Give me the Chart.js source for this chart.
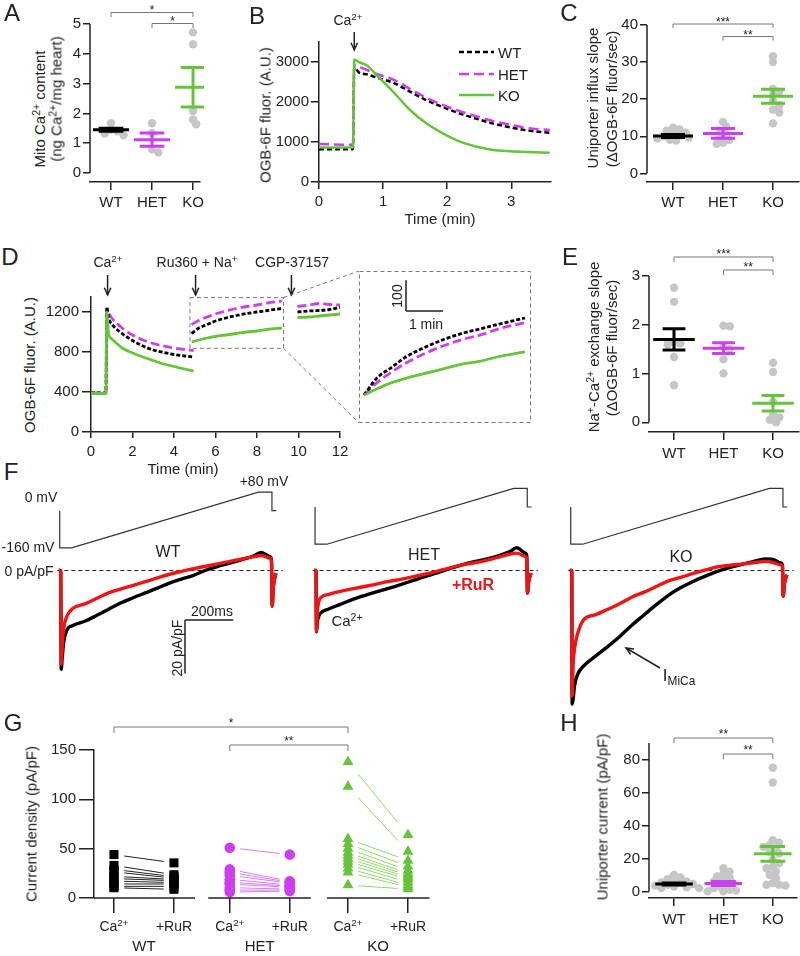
<!DOCTYPE html>
<html>
<head>
<meta charset="utf-8">
<title>MCU figure</title>
<script src="https://cdn.jsdelivr.net/npm/chart.js@4.4.1/dist/chart.umd.min.js"></script>
<style>
  html, body { margin: 0; padding: 0; background: #fff; }
  #fig { position: relative; width: 800px; height: 956px; overflow: hidden;
         font-family: "Liberation Sans", Arial, Helvetica, sans-serif; color: #222; }
  #fig canvas { position: absolute; }
  .t { position: absolute; white-space: nowrap; line-height: 1; font-size: 15px;
       transform: translate(-50%, -50%); }
  .t sup, .t sub { font-size: 70%; line-height: 0; position: relative; vertical-align: baseline; }
  .t sup { top: -0.5em; }
  .t sub { top: 0.3em; }
</style>
</head>
<body>
<div id="fig"></div>
<script>
// ---------- values ----------
const genotypes = ['WT', 'HET', 'KO'];

// A: mito Ca2+ content
const aWT = [1.67, 1.45, 1.40, 1.33, 1.27];
const aHET = [1.67, 1.34, 0.80, 0.69];
const aKO = [4.72, 4.32, 2.08, 1.80, 1.64];
const aMean = [1.45, 1.12, 2.88];
const aSem = [0.05, 0.22, 0.66];

// B: OGB-6F traces (time in min)
const bTime = [0, 0.53, 0.55, 0.62, 0.75, 0.9, 1.16, 1.42, 1.68, 1.94, 2.2, 2.46, 2.72, 2.98, 3.25, 3.6];
const bWT = [820, 820, 2880, 2740, 2690, 2610, 2480, 2260, 2040, 1870, 1710, 1580, 1460, 1370, 1290, 1230];
const bHET = [950, 930, 2920, 2880, 2800, 2700, 2560, 2330, 2100, 1920, 1770, 1640, 1520, 1430, 1350, 1300];
const bKO = [860, 860, 3060, 3000, 2910, 2670, 2250, 1800, 1460, 1210, 1010, 880, 800, 770, 750, 730];

// C: uniporter influx slope
const cWT = [12.3, 11.9, 11.5, 11.0, 10.6, 10.3, 10.0, 9.7, 9.4, 9.1, 8.9];
const cHET = [13.9, 12.6, 11.5, 10.4, 9.6, 9.0, 8.3, 8.0];
const cKO = [31.6, 30.0, 22.8, 22.0, 21.2, 19.5, 18.4, 17.2, 16.4, 13.5];
const cMean = [10.1, 10.8, 20.8];
const cSem = [0.4, 1.3, 1.9];

// D: OGB-6F traces, three recording segments (null = gap)
const dT = [0, 0.72, 0.76, 0.85, 1.0, 1.5, 2.0, 2.5, 3.0, 3.5, 4.0, 4.5, 4.95, null,
            4.85, 5.2, 5.6, 6.0, 6.5, 7.0, 7.5, 8.0, 8.5, 9.2, null,
            9.95, 10.5, 11.0, 11.5, 12.0];
const dWT = [390, 390, 1250, 1140, 1080, 985, 915, 860, 820, 795, 775, 760, 750, null,
             985, 1040, 1075, 1110, 1140, 1165, 1185, 1200, 1215, 1235, null,
             1200, 1210, 1215, 1225, 1245];
const dHET = [390, 390, 1230, 1190, 1140, 1040, 970, 920, 885, 860, 840, 825, 815, null,
              1075, 1115, 1150, 1180, 1210, 1235, 1255, 1270, 1290, 1310, null,
              1255, 1270, 1285, 1275, 1270];
const dKO = [385, 385, 1200, 980, 930, 840, 790, 750, 715, 680, 655, 630, 610, null,
             900, 920, 940, 955, 970, 985, 1000, 1010, 1025, 1040, null,
             1145, 1150, 1160, 1170, 1180];

// E: Na+-Ca2+ exchange slope
const eWT = [2.76, 2.47, 1.64, 1.62, 1.60, 1.34, 0.76];
const eHET = [1.98, 1.97, 1.55, 1.50, 1.29, 1.00];
const eKO = [1.22, 1.03, 0.42, 0.15, 0.10, 0.05, 0.0];
const eMean = [1.70, 1.52, 0.39];
const eSem = [0.22, 0.11, 0.16];

// F: ramp protocol and currents (ms, mV, pA/pF)
const fProtoT = [-4, -4, 45, 818, 874, 874, 892];
const fProtoV = [0, -160, -160, 80, 80, 0, 0];
const fZeroSpan = [-14, 918];
const fTime = [-8, 0, 2, 6, 12, 25, 50, 100, 150, 200, 250, 300, 350, 400, 450, 500, 550,
               600, 650, 700, 750, 800, 830, 866, 872, 875, 880, 890];
const fWtCa = [0, 0, -37, -33, -27, -22.4, -20.6, -19, -16.8, -14.4, -12.1, -10.2, -8.4, -6.6, -4.7, -3.2, -1.8,
               0.1, 1.5, 2.8, 4.1, 5.5, 6.8, 5.2, 4, -13, -6, -1];
const fWtRuR = [0, 0, -35, -29, -22, -17.3, -14.2, -12.5, -10.4, -8.3, -6.9, -5.6, -4.2, -2.8, -1.4, -0.3, 0.7,
                1.6, 2.5, 3.4, 4.3, 5.2, 5.6, 4.6, 3.6, -13.5, -6, -1];
const fHetCa = [0, 0, -23, -19, -17, -15.5, -14.5, -12.7, -10.9, -9.4, -8.0, -6.7, -5.3, -3.8, -2.3, -0.9, 0.6,
                2.0, 3.2, 4.2, 5.4, 7.0, 8.5, 6.5, 5.5, -8.4, -4, -1];
const fHetRuR = [0, 0, -22.7, -15, -11.5, -9.8, -9, -7.8, -6.9, -6.0, -5.1, -4.1, -3.3, -2.4, -1.4, -0.3, 0.9,
                 2.0, 2.8, 3.7, 4.9, 6.1, 6.5, 5.3, 4.5, -8.4, -4, -1];
const fKoCa = [0, 0, -50, -48, -43, -38.8, -35.7, -32, -28.4, -24.6, -20.4, -16.6, -12.8, -9.3, -6.5, -4.2, -2.2,
               -0.4, 1.0, 2.2, 3.3, 4.3, 4.2, 2.8, 2.0, -9.6, -5, -1.6];
const fKoRuR = [0, 0, -47, -35, -29, -23.5, -18.4, -16.5, -14.5, -12.4, -9.9, -8.1, -6.0, -3.9, -2.6, -1.2, 0.1,
                1.3, 1.9, 2.4, 2.9, 3.4, 3.1, 2.1, 1.5, -9.6, -5, -1.6];

// G: paired current densities, Ca2+ then +RuR
const gWtCa = [44, 33, 29, 26.5, 22, 19.7, 17.2, 14.2, 11.8, 10.4];
const gWtRuR = [35.6, 23.6, 21.6, 20.1, 18.7, 17.5, 15.6, 14.2, 11.8, 8.8];
const gHetCa = [51, 29, 26, 23, 19, 16, 14, 10.5, 8, 6];
const gHetRuR = [44, 17, 16, 15, 13, 12, 11, 9, 8, 7];
const gKoCa = [138, 113, 60, 55, 50, 46, 43, 40, 37, 34, 30, 26, 13];
const gKoRuR = [64, 47, 38, 32, 28, 25, 23, 21, 19, 16, 13, 11, 9];
const gTickLabels = ['Ca<sup>2+</sup>', '+RuR'];

// H: uniporter current
const hWT = [10, 8.5, 7.5, 6.5, 6, 5.5, 5, 4.5, 4, 3.5, 3, 2.5, 2, 2];
const hHET = [14, 12, 10.5, 9, 8, 7, 6, 5, 4, 3, 2, 1, 0.5, 0, 0];
const hKO = [75, 66, 31, 29.5, 28, 27, 26, 24, 23, 19, 17, 15, 14, 12, 10, 8, 5, 4, 4, 3.5];
const hMean = [4.5, 4.8, 22.8];
const hSem = [0.6, 1.2, 4.5];

// ---------- setup ----------
const fig = document.getElementById('fig');
const FONT = '"Liberation Sans", Arial, Helvetica, sans-serif';
const AX = '#222';
const COL = ['#000000', '#cc3ff0', '#66c43a'];
const PT = '#c6c6c6';
const RED = '#f01414';

Chart.defaults.font.family = FONT;
Chart.defaults.font.size = 15;
Chart.defaults.color = AX;

function canvasAt(left, top, w, h) {
  const c = document.createElement('canvas');
  c.width = w; c.height = h;
  Object.assign(c.style, {left: left + 'px', top: top + 'px', width: w + 'px', height: h + 'px'});
  fig.appendChild(c);
  return c;
}

function txt(html, x, y, o = {}) {
  const d = document.createElement('div');
  d.className = 't';
  d.innerHTML = html;
  d.style.left = x + 'px';
  d.style.top = y + 'px';
  if (o.size) d.style.fontSize = o.size + 'px';
  if (o.color) d.style.color = o.color;
  if (o.bold) d.style.fontWeight = 'bold';
  if (o.rot) d.style.transform = 'translate(-50%,-50%) rotate(-90deg)';
  if (o.left) d.style.transform = 'translate(0,-50%)';
  fig.appendChild(d);
}

function seg(ctx, x1, y1, x2, y2) {
  ctx.beginPath(); ctx.moveTo(x1, y1); ctx.lineTo(x2, y2); ctx.stroke();
}

function arrow(ctx, x1, y1, x2, y2) {
  seg(ctx, x1, y1, x2, y2);
  const a = Math.atan2(y2 - y1, x2 - x1), len = 8;
  ctx.beginPath();
  ctx.moveTo(x2 - len * Math.cos(a - 0.42), y2 - len * Math.sin(a - 0.42));
  ctx.lineTo(x2, y2);
  ctx.lineTo(x2 - len * Math.cos(a + 0.42), y2 - len * Math.sin(a + 0.42));
  ctx.stroke();
}

// extra drawing: offset axis lines, brackets, arrows, boxes, scale bars, legend
const decor = {
  id: 'decor',
  afterDatasetsDraw(chart, args, o) {
    const ctx = chart.ctx, ca = chart.chartArea;
    const sx = chart.scales.x, sy = chart.scales.y;
    const ox = o.ox, oy = o.oy;
    ctx.save();
    ctx.strokeStyle = AX;
    ctx.lineWidth = 1.5;
    if (o.yLine) seg(ctx, ca.left, sy.getPixelForValue(o.yLine[0]), ca.left, sy.getPixelForValue(o.yLine[1]));
    if (o.xSegs) o.xSegs.forEach(s => seg(ctx, sx.getPixelForValue(s[0]), ca.bottom, sx.getPixelForValue(s[1]), ca.bottom));
    if (o.arrows) o.arrows.forEach(a => {
      const x = sx.getPixelForValue(a.x);
      arrow(ctx, x, a.y1 - oy, x, a.y2 - oy);
    });
    if (o.arrowsPx) o.arrowsPx.forEach(a => arrow(ctx, a.x1 - ox, a.y1 - oy, a.x2 - ox, a.y2 - oy));
    if (o.scaleBar) {
      const b = o.scaleBar, x = b.x - ox, y = b.y - oy;
      const hx = sx.getPixelForValue(sx.min + b.dx) - sx.getPixelForValue(sx.min);
      const vy = sy.getPixelForValue(sy.min) - sy.getPixelForValue(sy.min + Math.abs(b.dy));
      seg(ctx, x, y, x + hx, y);
      seg(ctx, x, y, x, b.dy > 0 ? y - vy : y + vy);
    }
    if (o.legend) o.legend.forEach(e => {
      const ds = chart.data.datasets[e.ds];
      ctx.save();
      ctx.strokeStyle = ds.borderColor; ctx.lineWidth = ds.borderWidth;
      ctx.setLineDash(ds.borderDash || []);
      seg(ctx, e.x1 - ox, e.y - oy, e.x2 - ox, e.y - oy);
      ctx.restore();
    });
    ctx.lineWidth = 1;
    ctx.strokeStyle = '#777';
    if (o.brackets) o.brackets.forEach(b => {
      const xa = sx.getPixelForValue(b.a), xb = sx.getPixelForValue(b.b), y = b.y - oy;
      ctx.beginPath(); ctx.moveTo(xa, y + b.drop); ctx.lineTo(xa, y); ctx.lineTo(xb, y); ctx.lineTo(xb, y + b.drop); ctx.stroke();
    });
    ctx.setLineDash([4, 3]);
    if (o.frame) ctx.strokeRect(ca.left + 0.5, ca.top + 0.5, ca.right - ca.left - 1, ca.bottom - ca.top - 1);
    if (o.box) {
      const b = o.box;
      const x0 = sx.getPixelForValue(b.x0), x1 = sx.getPixelForValue(b.x1);
      const y0 = sy.getPixelForValue(b.y0), y1 = sy.getPixelForValue(b.y1);
      ctx.strokeRect(x0, y1, x1 - x0, y0 - y1);
      seg(ctx, x1, y1, b.to[0][0] - ox, b.to[0][1] - oy);
      seg(ctx, x1, y0, b.to[1][0] - ox, b.to[1][1] - oy);
    }
    ctx.restore();
  }
};

function xAxis(min, max, ticks, o) {
  return {
    type: 'linear', min, max, position: 'bottom',
    afterBuildTicks: s => { s.ticks = ticks.map(v => ({value: v})); },
    afterFit: s => { s.height = o.h; s.paddingLeft = 0; s.paddingRight = 0; },
    grid: {drawOnChartArea: false, tickLength: o.tick || 8, color: AX, lineWidth: 1.5},
    border: {display: o.border !== false, color: AX, width: 1.5},
    ticks: {display: !o.noLabels, padding: o.pad ?? 4, maxRotation: 0, autoSkip: false,
            callback: o.labels ? (v, i) => o.labels[i] : (v => v)}
  };
}

function yAxis(min, max, ticks, o) {
  return {
    type: 'linear', min, max, position: 'left',
    afterBuildTicks: s => { s.ticks = ticks.map(v => ({value: v})); },
    afterFit: s => { s.width = o.w; s.paddingTop = 0; s.paddingBottom = 0; },
    grid: {drawOnChartArea: false, tickLength: o.tick || 7, color: AX, lineWidth: 1.5},
    border: {display: !!o.border, color: AX, width: 1.5},
    ticks: {padding: o.pad ?? 2, autoSkip: false, callback: v => v}
  };
}

function baseOptions(top, right, decorOpts, scales) {
  return {
    responsive: false, animation: false, events: [],
    layout: {padding: {left: 0, top, right, bottom: 0}, autoPadding: false},
    plugins: {legend: {display: false}, tooltip: {enabled: false}, decor: decorOpts},
    scales
  };
}

// simple deterministic beeswarm: spread points that would overlap too much
function swarm(vals, pxY, r) {
  const placed = [], offs = vals.map(() => 0);
  const idx = vals.map((v, i) => i).sort((a, b) => vals[b] - vals[a]);
  idx.forEach(i => {
    const y = vals[i] * pxY;
    for (let k = 0; k < 60; k++) {
      const dx = k === 0 ? 0 : (k % 2 ? 1 : -1) * Math.ceil(k / 2) * r * 0.75;
      if (placed.every(p => Math.hypot(p.x - dx, p.y - y) >= r * 1.35)) {
        offs[i] = dx; placed.push({x: dx, y}); break;
      }
    }
  });
  return offs;
}

function dotPanel(p) {
  const left = p.L - p.yW, top = p.T - p.top;
  const cv = canvasAt(left, top, p.R + p.right - left, p.B + p.xH - top);
  const pxX = (p.R - p.L) / (p.xMax - p.xMin), pxY = (p.B - p.T) / (p.yMax - p.yMin);
  const pts = [];
  p.groups.forEach((vals, g) => {
    const offs = swarm(vals, pxY, p.r);
    vals.forEach((v, k) => pts.push({x: g + offs[k] / pxX, y: v}));
  });
  const datasets = [{data: pts, backgroundColor: PT, borderWidth: 0, pointRadius: p.r, order: 5, clip: false}];
  p.mean.forEach((m, g) => {
    const s = p.sem[g], gap = {x: g, y: null};
    datasets.push({
      data: [{x: g - p.mw, y: m}, {x: g + p.mw, y: m}, gap,
             {x: g, y: m - s}, {x: g, y: m + s}, gap,
             {x: g - p.cw, y: m + s}, {x: g + p.cw, y: m + s}, gap,
             {x: g - p.cw, y: m - s}, {x: g + p.cw, y: m - s}],
      showLine: true, spanGaps: false, borderColor: COL[g], borderWidth: 3, pointRadius: 0, order: 1, clip: false
    });
  });
  const chart = new Chart(cv, {
    type: 'scatter',
    data: {datasets},
    options: baseOptions(p.top, p.right, {ox: left, oy: top, yLine: [p.yTop, 0], brackets: p.brackets}, {
      x: xAxis(p.xMin, p.xMax, [0, 1, 2], {h: p.xH, labels: genotypes, tick: 8, pad: p.xPad ?? 4}),
      y: yAxis(p.yMin, p.yMax, p.yTicks, {w: p.yW})
    }),
    plugins: [decor]
  });
  p.brackets.forEach(b => txt(b.text, left + chart.scales.x.getPixelForValue((b.a + b.b) / 2), b.ty, {size: 12}));
  return chart;
}

// ---------- A ----------
dotPanel({L: 90, T: 24, R: 200, B: 182, xMin: -0.512, xMax: 2.17, yMin: -0.3, yMax: 5,
  yTicks: [0, 1, 2, 3, 4, 5], yTop: 5, groups: [aWT, aHET, aKO], mean: aMean, sem: aSem,
  r: 4.2, mw: 0.44, cw: 0.3, yW: 40, xH: 36, top: 24, right: 4,
  brackets: [{a: 0, b: 2, y: 12.5, drop: 4.5, text: '*', ty: 9.5}, {a: 1, b: 2, y: 23.5, drop: 4.5, text: '*', ty: 21}]});

// ---------- B ----------
(function () {
  const L = 319, T = 42, R = 551, B = 182, yW = 50, xH = 36, top = 42, right = 4;
  const left = L - yW, ctop = T - top;
  const cv = canvasAt(left, ctop, R + right - left, B + xH - ctop);
  const line = (ys, col, dash, order) => ({
    data: bTime.map((t, i) => ({x: t, y: ys[i]})), showLine: true, borderColor: col, borderDash: dash,
    borderWidth: 2.5, pointRadius: 0, cubicInterpolationMode: 'monotone', order
  });
  new Chart(cv, {
    type: 'scatter',
    data: {datasets: [line(bWT, COL[0], [5, 3], 2), line(bHET, COL[1], [10, 5], 1), line(bKO, COL[2], [], 0)]},
    options: baseOptions(top, right, {
      ox: left, oy: ctop, arrows: [{x: 0.55, y1: 32, y2: 50}],
      legend: [{ds: 0, x1: 459, x2: 494, y: 52}, {ds: 1, x1: 459, x2: 494, y: 74}, {ds: 2, x1: 459, x2: 494, y: 95}]
    }, {
      x: xAxis(0, 3.62, [0, 1, 2, 3], {h: xH, tick: 7, pad: 4}),
      y: yAxis(0, 3500, [0, 1000, 2000, 3000], {w: yW, border: true, tick: 8})
    }),
    plugins: [decor]
  });
})();

// ---------- C ----------
dotPanel({L: 647, T: 25, R: 799, B: 182, xMin: -0.52, xMax: 2.52, yMin: -2.3, yMax: 40,
  yTicks: [0, 10, 20, 30, 40], yTop: 40, groups: [cWT, cHET, cKO], mean: cMean, sem: cSem,
  r: 4.2, mw: 0.4, cw: 0.24, yW: 45, xH: 36, top: 25, right: 1,
  brackets: [{a: 0, b: 2, y: 24, drop: 4, text: '***', ty: 21.5}, {a: 1, b: 2, y: 36.5, drop: 4, text: '**', ty: 34.5}]});

// ---------- D ----------
const dSeries = [dWT, dHET, dKO];
const dStyles = [{dash: [4, 2], order: 1}, {dash: [9, 4], order: 2}, {dash: [], order: 0}];
function dPoints(ys) {
  return dT.map((t, i) => ({x: t === null ? dT[i - 1] : t, y: t === null ? null : ys[i]}));
}
(function () {
  const L = 91, T = 297, R = 340, B = 432, yW = 50, xH = 36, top = 52, right = 22;
  const left = L - yW, ctop = T - top;
  const cv = canvasAt(left, ctop, R + right - left, B + xH - ctop);
  const datasets = dSeries.map((ys, g) => ({
    data: dPoints(ys), showLine: true, spanGaps: false, borderColor: COL[g], borderDash: dStyles[g].dash,
    borderWidth: 2.8, pointRadius: 0, cubicInterpolationMode: 'monotone', order: dStyles[g].order
  }));
  new Chart(cv, {
    type: 'scatter',
    data: {datasets},
    options: baseOptions(top, right, {
      ox: left, oy: ctop,
      arrows: [{x: 0.8, y1: 275, y2: 295}, {x: 5.04, y1: 275, y2: 295}, {x: 9.66, y1: 275, y2: 295}],
      box: {x0: 4.77, x1: 9.28, y0: 837, y1: 1344, to: [[359, 271], [359, 423]]}
    }, {
      x: xAxis(0, 12, [0, 2, 4, 6, 8, 10, 12], {h: xH, tick: 6, pad: 5}),
      y: yAxis(0, 1350, [0, 400, 800, 1200], {w: yW, border: true, tick: 9, pad: 3})
    }),
    plugins: [decor]
  });
})();

// D inset: middle segment, baseline subtracted
(function () {
  const left = 359, top = 271, w = 172, h = 152;
  const cv = canvasAt(left, top, w, h);
  const pxMin = 37, pxUnit = 0.308, zeroY = 395 - top;
  const xMin = 4.85 - 5 / pxMin, xMax = xMin + w / pxMin;
  const yMin = -(h - zeroY) / pxUnit, yMax = zeroY / pxUnit;
  const s = dT.indexOf(null) + 1, e = dT.indexOf(null, s);
  const datasets = dSeries.map((ys, g) => ({
    data: dT.slice(s, e).map((t, i) => ({x: t, y: ys[s + i] - ys[s]})),
    showLine: true, borderColor: COL[g], borderDash: dStyles[g].dash, borderWidth: 2.8, pointRadius: 0,
    cubicInterpolationMode: 'monotone', order: dStyles[g].order
  }));
  new Chart(cv, {
    type: 'scatter',
    data: {datasets},
    options: baseOptions(0, 0, {ox: left, oy: top, frame: true, scaleBar: {x: 406, y: 311, dx: 1, dy: 100}}, {
      x: {type: 'linear', display: false, min: xMin, max: xMax},
      y: {type: 'linear', display: false, min: yMin, max: yMax}
    }),
    plugins: [decor]
  });
})();

// ---------- E ----------
dotPanel({L: 649, T: 276, R: 799, B: 432, xMin: -0.505, xMax: 2.525, yMin: -0.2, yMax: 3,
  yTicks: [0, 1, 2, 3], yTop: 3, groups: [eWT, eHET, eKO], mean: eMean, sem: eSem,
  r: 4.2, mw: 0.42, cw: 0.23, yW: 45, xH: 36, top: 30, right: 1, xPad: 5,
  brackets: [{a: 0, b: 2, y: 257, drop: 5, text: '***', ty: 254}, {a: 1, b: 2, y: 270, drop: 5, text: '**', ty: 267}]});

// ---------- F ----------
const PX_MS = 0.2417, PX_I = 2.67, PX_MV = 0.2325, F_TOP = 478, F_BOT = 712, I_ZERO = 570.5, F_W = 238;
function ephys(x0, vZero, ca, ru, extra) {
  const left = Math.round(x0 - 36 * PX_MS);
  const cv = canvasAt(left, F_TOP, F_W, F_BOT - F_TOP);
  const xMin = -(x0 - left) / PX_MS, xMax = xMin + F_W / PX_MS;
  const pts = ys => fTime.map((t, i) => ({x: t, y: ys[i]}));
  const tr = {showLine: true, pointRadius: 0, borderWidth: 3.4, cubicInterpolationMode: 'monotone'};
  new Chart(cv, {
    type: 'scatter',
    data: {datasets: [
      Object.assign({data: pts(ru), borderColor: RED, order: 0}, tr),
      Object.assign({data: pts(ca), borderColor: '#000', order: 1}, tr),
      {data: fZeroSpan.map(t => ({x: t, y: 0})), showLine: true, borderColor: AX, borderWidth: 1.2,
       borderDash: [4, 3], pointRadius: 0, order: 2},
      {data: fProtoT.map((t, i) => ({x: t, y: fProtoV[i]})), yAxisID: 'v', showLine: true,
       borderColor: '#333', borderWidth: 1.2, pointRadius: 0, order: 3}
    ]},
    options: baseOptions(0, 0, Object.assign({ox: left, oy: F_TOP}, extra), {
      x: {type: 'linear', display: false, min: xMin, max: xMax},
      y: {type: 'linear', display: false, min: -(F_BOT - I_ZERO) / PX_I, max: (I_ZERO - F_TOP) / PX_I},
      v: {type: 'linear', display: false, min: -(F_BOT - vZero) / PX_MV, max: (vZero - F_TOP) / PX_MV}
    }),
    plugins: [decor]
  });
}
ephys(60.7, 510.7, fWtCa, fWtRuR, {scaleBar: {x: 185, y: 620, dx: 200, dy: -20}});
ephys(316, 507, fHetCa, fHetRuR, {});
ephys(571.7, 507, fKoCa, fKoRuR, {arrowsPx: [{x1: 660, y1: 668, x2: 626, y2: 648}]});

// ---------- G ----------
(function () {
  const L = 94, T = 750, R = 430, B = 898, yW = 45, xH = 17, top = 40, right = 4;
  const left = L - yW, ctop = T - top;
  const cv = canvasAt(left, ctop, R + right - left, B + xH - ctop);
  const gPos = [0, 1, 1.93, 2.93, 3.9, 4.9];
  const pairs = [[gWtCa, gWtRuR], [gHetCa, gHetRuR], [gKoCa, gKoRuR]];
  const marks = [{ps: 'rect', r: 6.4}, {ps: 'circle', r: 5.3}, {ps: 'triangle', r: 6.3}];
  const lineCols = ['#222', '#d77ef5', '#93d66e'];
  const f = 0.17;
  const datasets = [];
  pairs.forEach(([ca, ru], g) => {
    const xa = gPos[2 * g], xb = gPos[2 * g + 1];
    datasets.push({
      data: ca.map(v => ({x: xa, y: v})).concat(ru.map(v => ({x: xb, y: v}))),
      pointStyle: marks[g].ps, pointRadius: marks[g].r, backgroundColor: COL[g], borderWidth: 0, order: 1, clip: false
    });
    const segs = [];
    ca.forEach((v, k) => {
      const w = ru[k];
      segs.push({x: xa + f * (xb - xa), y: v + f * (w - v)}, {x: xb - f * (xb - xa), y: w - f * (w - v)}, {x: xa, y: null});
    });
    datasets.push({data: segs, showLine: true, spanGaps: false, borderColor: lineCols[g], borderWidth: 1,
                   pointRadius: 0, order: 2});
  });
  const brackets = [{a: 0, b: 3.9, y: 727, drop: 6, text: '*', ty: 723}, {a: 1.93, b: 3.9, y: 745, drop: 6, text: '**', ty: 741}];
  const chart = new Chart(cv, {
    type: 'scatter',
    data: {datasets},
    options: baseOptions(top, right, {
      ox: left, oy: ctop, xSegs: [[-0.333, 1.35], [1.57, 3.28], [3.55, 5.26]], brackets
    }, {
      x: xAxis(-0.333, 5.267, gPos, {h: xH, tick: 15, noLabels: true, border: false}),
      y: yAxis(0, 150, [0, 50, 100, 150], {w: yW, border: true, tick: 15, pad: 3})
    }),
    plugins: [decor]
  });
  const px = v => left + chart.scales.x.getPixelForValue(v);
  gPos.forEach((v, i) => txt(gTickLabels[i % 2], px(v), 926, {size: 14}));
  genotypes.forEach((g, i) => txt(g, (px(gPos[2 * i]) + px(gPos[2 * i + 1])) / 2, 945));
  brackets.forEach(b => txt(b.text, px((b.a + b.b) / 2), b.ty, {size: 12}));
})();

// ---------- H ----------
dotPanel({L: 649, T: 743, R: 797, B: 898, xMin: -0.507, xMax: 2.49, yMin: -4, yMax: 90,
  yTicks: [0, 20, 40, 60, 80], yTop: 90, groups: [hWT, hHET, hKO], mean: hMean, sem: hSem,
  r: 4.2, mw: 0.38, cw: 0.25, yW: 45, xH: 36, top: 22, right: 3, xPad: 5,
  brackets: [{a: 0, b: 2, y: 738, drop: 5, text: '**', ty: 734}, {a: 1, b: 2, y: 754, drop: 5, text: '**', ty: 750}]});

// ---------- text ----------
[['A', 12, 13], ['B', 257, 16], ['C', 569, 13], ['D', 10, 257], ['E', 570, 257],
 ['F', 11, 472], ['G', 13, 723], ['H', 569, 723]].forEach(l => txt(l[0], l[1], l[2], {size: 24}));

txt('Mito Ca<sup>2+</sup> content', 39, 109, {rot: true});
txt('(ng Ca<sup>2+</sup>/mg heart)', 56, 99, {rot: true});

txt('OGB-6F fluor. (A.U.)', 265, 115, {rot: true});
txt('Time (min)', 440, 218);
txt('Ca<sup>2+</sup>', 348, 20, {size: 14});
txt('WT', 498, 52, {left: true});
txt('HET', 498, 74, {left: true});
txt('KO', 498, 95, {left: true});

txt('Uniporter influx slope', 592, 98, {rot: true});
txt('(ΔOGB-6F fluor/sec)', 611, 99, {rot: true});

txt('OGB-6F fluor. (A.U.)', 29, 365, {rot: true});
txt('Time (min)', 183, 468);
txt('Ca<sup>2+</sup>', 108, 262, {size: 14});
txt('Ru360 + Na<sup>+</sup>', 197, 262, {size: 14});
txt('CGP-37157', 292, 262, {size: 14});
txt('100', 397, 296, {rot: true, size: 14});
txt('1 min', 426, 324, {size: 14});

txt('Na<sup>+</sup>-Ca<sup>2+</sup> exchange slope', 593, 347, {rot: true});
txt('(ΔOGB-6F fluor/sec)', 611, 348, {rot: true});

txt('0 mV', 41, 497, {size: 14});
txt('-160 mV', 28, 547, {size: 14});
txt('+80 mV', 264, 481, {size: 14});
txt('0 pA/pF', 29, 570.5, {size: 14});
txt('WT', 168, 552, {size: 16});
txt('HET', 424, 555, {size: 16});
txt('KO', 681, 557, {size: 16});
txt('+RuR', 473, 585, {size: 16, bold: true, color: RED});
txt('Ca<sup>2+</sup>', 347, 620);
txt('200ms', 212, 611, {size: 14});
txt('20 pA/pF', 177, 648, {rot: true, size: 14});
txt('I<sub>MiCa</sub>', 679, 675, {size: 17});

txt('Current density (pA/pF)', 31, 824, {rot: true});
txt('Uniporter current (pA/pF)', 601.5, 817, {rot: true});
</script>
</body>
</html>
